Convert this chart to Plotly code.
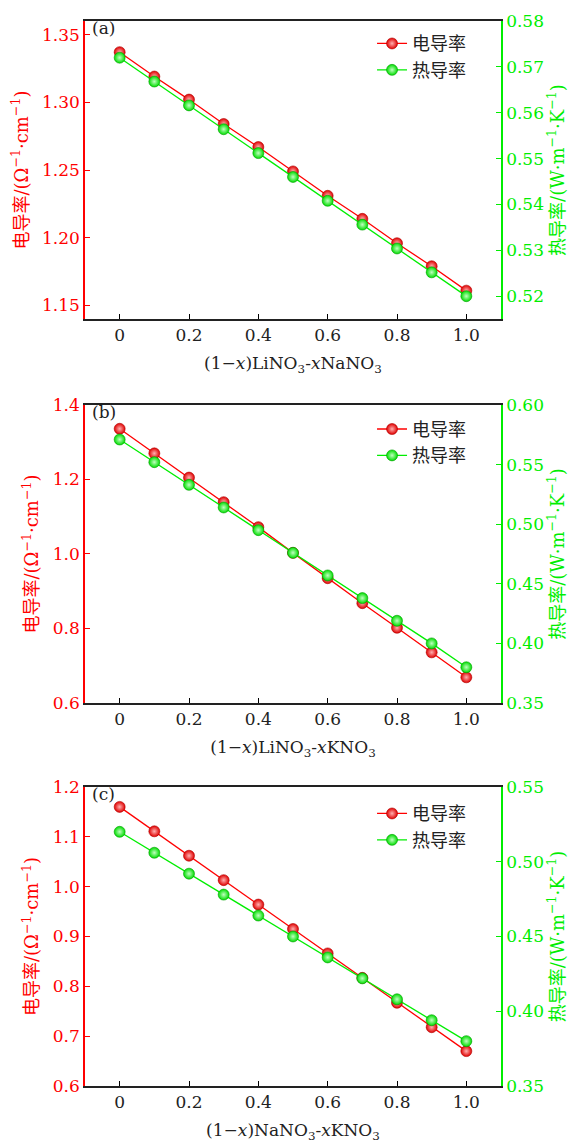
import plotly.graph_objects as go

# ---------------- data ----------------
x_vals = [0.0, 0.1, 0.2, 0.3, 0.4, 0.5, 0.6, 0.7, 0.8, 0.9, 1.0]

# (a) (1-x)LiNO3-xNaNO3
ec_a = [1.337, 1.319, 1.302, 1.284, 1.267, 1.249, 1.231, 1.214, 1.196, 1.179, 1.161]
tc_a = [0.572, 0.5668, 0.5616, 0.5564, 0.5512, 0.546, 0.5408, 0.5356, 0.5304, 0.5252, 0.520]

# (b) (1-x)LiNO3-xKNO3
ec_b = [1.336, 1.270, 1.205, 1.139, 1.072, 1.003, 0.935, 0.868, 0.802, 0.736, 0.669]
tc_b = [0.571, 0.552, 0.533, 0.514, 0.495, 0.476, 0.457, 0.438, 0.419, 0.400, 0.380]

# (c) (1-x)NaNO3-xKNO3
ec_c = [1.160, 1.111, 1.062, 1.013, 0.964, 0.915, 0.866, 0.817, 0.767, 0.718, 0.670]
tc_c = [0.520, 0.506, 0.492, 0.478, 0.464, 0.450, 0.436, 0.422, 0.408, 0.394, 0.380]

series_ec = [ec_a, ec_b, ec_c]
series_tc = [tc_a, tc_b, tc_c]

panel_labels = ["(a)", "(b)", "(c)"]
x_titles = [
    "(1−<i>x</i>)LiNO<sub>3</sub>-<i>x</i>NaNO<sub>3</sub>",
    "(1−<i>x</i>)LiNO<sub>3</sub>-<i>x</i>KNO<sub>3</sub>",
    "(1−<i>x</i>)NaNO<sub>3</sub>-<i>x</i>KNO<sub>3</sub>",
]
x_tickvals = [0, 0.2, 0.4, 0.6, 0.8, 1.0]
x_ticktext = ["0", "0.2", "0.4", "0.6", "0.8", "1.0"]

legend_names = ["电导率", "热导率"]
left_title = "电导率/(Ω<sup>−1</sup>·cm<sup>−1</sup>)"
right_title = "热导率/(W·m<sup>−1</sup>·K<sup>−1</sup>)"

left_ranges = [[1.14, 1.36], [0.6, 1.4], [0.6, 1.2]]
left_dtick = [0.05, 0.2, 0.1]
left_fmt = [".2f", ".1f", ".1f"]
right_ranges = [[0.515, 0.58], [0.35, 0.60], [0.35, 0.55]]
right_dtick = [0.01, 0.05, 0.05]
right_fmt = [".2f", ".2f", ".2f"]

# ---------------- style ----------------
RED = "#ff0000"
GREEN = "#00ee00"
SERIF = "DejaVu Serif, 'Noto Sans CJK SC'"
CJK = "'Noto Sans CJK SC', DejaVu Serif"

domains = [[0.7201, 1.0], [0.3596, 0.6395], [0.0, 0.2808]]
legend_y = [0.996, 0.634, 0.273]

fig = go.Figure()
layout = dict(
    width=579, height=1148,
    margin=dict(l=85, r=78, t=11, b=58),
    paper_bgcolor="white", plot_bgcolor="white",
    showlegend=True,
    annotations=[],
)

for i in range(3):
    xn = "x" if i == 0 else f"x{i+1}"
    yl_n = 2 * i + 1
    yr_n = 2 * i + 2
    yl = "y" if yl_n == 1 else f"y{yl_n}"
    yr = f"y{yr_n}"
    leg = "legend" if i == 0 else f"legend{i+1}"

    fig.add_trace(go.Scatter(
        x=x_vals, y=series_ec[i], xaxis=xn, yaxis=yl, name=legend_names[0],
        mode="lines+markers", legend=leg,
        line=dict(color=RED, width=1.3),
        marker=dict(size=11, color="#e00000",
                    gradient=dict(type="radial", color="#ffb0b0"),
                    line=dict(color="#b00000", width=0.6)),
    ))
    fig.add_trace(go.Scatter(
        x=x_vals, y=series_tc[i], xaxis=xn, yaxis=yr, name=legend_names[1],
        mode="lines+markers", legend=leg,
        line=dict(color=GREEN, width=1.3),
        marker=dict(size=11, color="#00dd00",
                    gradient=dict(type="radial", color="#c0ffc0"),
                    line=dict(color="#00a000", width=0.6)),
    ))

    xkey = "xaxis" if i == 0 else f"xaxis{i+1}"
    ylkey = "yaxis" if yl_n == 1 else f"yaxis{yl_n}"
    yrkey = f"yaxis{yr_n}"

    layout[xkey] = dict(
        domain=[0, 1], anchor=yl, range=[-0.1, 1.1],
        tickvals=x_tickvals, ticktext=x_ticktext,
        ticks="inside", ticklen=5, tickwidth=1.2, tickcolor="black",
        showline=True, linecolor="#222222", linewidth=1.5, mirror=True,
        showgrid=False, zeroline=False,
        tickfont=dict(family=SERIF, size=17, color="#222222"),
        title=dict(text=x_titles[i], font=dict(family=SERIF, size=17, color="#222222"), standoff=13),
    )
    layout[ylkey] = dict(
        domain=domains[i], anchor=xn, range=left_ranges[i],
        dtick=left_dtick[i], tickformat=left_fmt[i],
        ticks="inside", ticklen=5, tickwidth=1.2, tickcolor=RED,
        showline=True, linecolor=RED, linewidth=1.5,
        showgrid=False, zeroline=False,
        tickfont=dict(family=SERIF, size=17, color=RED),
        title=dict(text=left_title, font=dict(family=SERIF, size=18, color=RED), standoff=9),
    )
    layout[yrkey] = dict(
        domain=domains[i], anchor=xn, overlaying=yl, side="right",
        range=right_ranges[i], dtick=right_dtick[i], tickformat=right_fmt[i],
        ticks="inside", ticklen=5, tickwidth=1.2, tickcolor=GREEN,
        showline=True, linecolor=GREEN, linewidth=1.5,
        showgrid=False, zeroline=False,
        tickfont=dict(family=SERIF, size=17, color=GREEN),
        title=dict(text=right_title, font=dict(family=SERIF, size=18, color=GREEN), standoff=6),
    )
    layout[leg] = dict(
        x=0.69, y=legend_y[i], xanchor="left", yanchor="top",
        bgcolor="rgba(0,0,0,0)", borderwidth=0,
        font=dict(family=CJK, size=18, color="#222222"),
        itemwidth=30, tracegroupgap=0,
    )
    layout["annotations"].append(dict(
        text=panel_labels[i], xref=f"{xn} domain", yref=f"{yl} domain",
        x=0.012, y=1.0, xanchor="left", yanchor="top", showarrow=False,
        yshift=5,
        font=dict(family=SERIF, size=17, color="#222222"),
    ))

fig.update_layout(**layout)
fig.write_html("out.html")
